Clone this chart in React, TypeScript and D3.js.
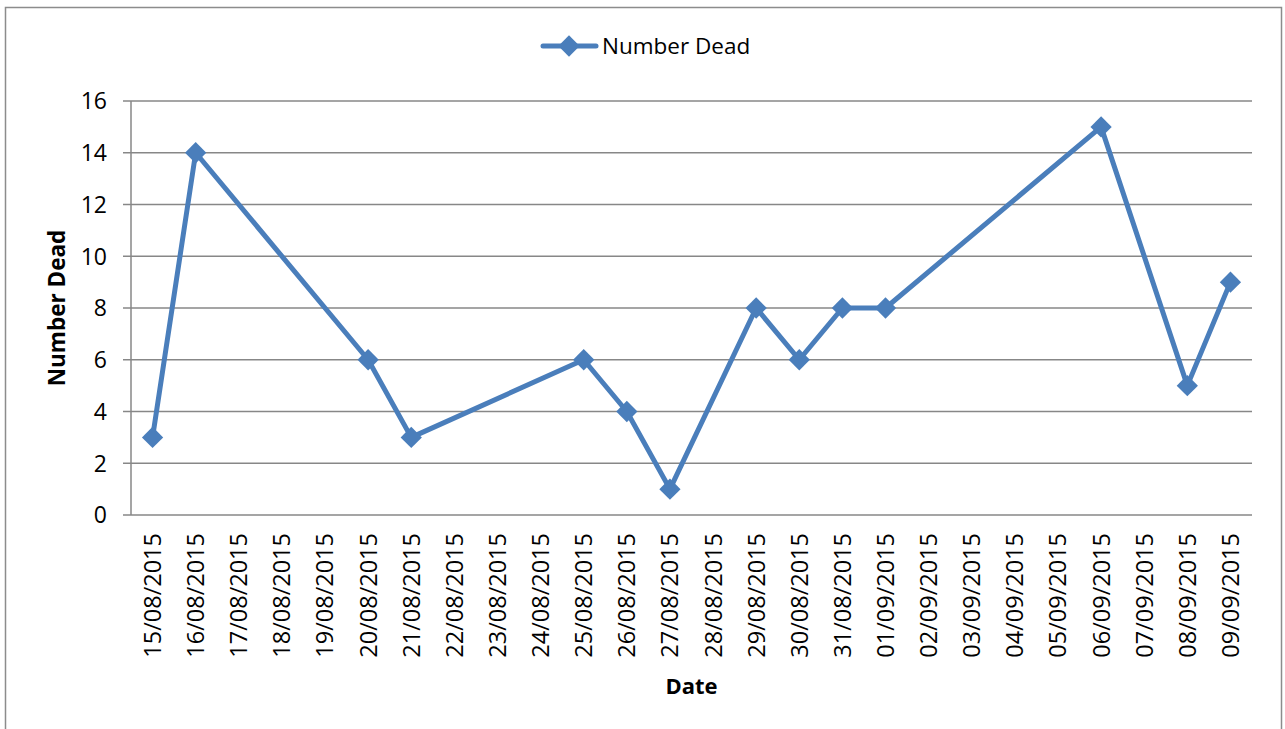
import { useEffect, useRef } from "react";
import * as d3 from "d3";

// all categories on the x axis (every day, even without a record)
const dates = [
  "15/08/2015", "16/08/2015", "17/08/2015", "18/08/2015", "19/08/2015", "20/08/2015",
  "21/08/2015", "22/08/2015", "23/08/2015", "24/08/2015", "25/08/2015", "26/08/2015",
  "27/08/2015", "28/08/2015", "29/08/2015", "30/08/2015", "31/08/2015", "01/09/2015",
  "02/09/2015", "03/09/2015", "04/09/2015", "05/09/2015", "06/09/2015", "07/09/2015",
  "08/09/2015", "09/09/2015",
];

// days that have a value, and the value on that day
const recordDates = [
  "15/08/2015", "16/08/2015", "20/08/2015", "21/08/2015", "25/08/2015", "26/08/2015",
  "27/08/2015", "29/08/2015", "30/08/2015", "31/08/2015", "01/09/2015", "06/09/2015",
  "08/09/2015", "09/09/2015",
];
const numberDead = [3, 14, 6, 3, 6, 4, 1, 8, 6, 8, 8, 15, 5, 9];

const yTicks = [0, 2, 4, 6, 8, 10, 12, 14, 16];

const seriesName = "Number Dead";

function App() {
  const ref = useRef<SVGSVGElement>(null);

  const width = 1285,
    height = 729;
  const plot = { left: 131, right: 1252, top: 101, bottom: 515 };
  const blue = "#4A7EBB";
  const grid = "#878787";
  const font = "'Open Sans', sans-serif";

  useEffect(() => {
    const svg = d3.select(ref.current);
    svg.selectAll("*").remove();

    // outer chart frame
    svg.append("rect")
      .attr("x", 5.5).attr("y", 7.5)
      .attr("width", 1276).attr("height", 740)
      .attr("fill", "white")
      .attr("stroke", "#8c8c8c")
      .attr("stroke-width", 1.5);

    const x = d3.scaleBand<string>()
      .domain(dates)
      .range([plot.left, plot.right]);

    const y = d3.scaleLinear()
      .domain([0, 16])
      .range([plot.bottom, plot.top]);

    const cx = (d: string) => (x(d) as number) + x.bandwidth() / 2;

    // horizontal grid lines + small ticks on the left
    svg.append("g")
      .selectAll("line")
      .data(yTicks)
      .enter()
      .append("line")
      .attr("x1", plot.left - 8)
      .attr("x2", plot.right)
      .attr("y1", d => y(d))
      .attr("y2", d => y(d))
      .attr("stroke", grid)
      .attr("stroke-width", 1.5);

    // vertical axis line
    svg.append("line")
      .attr("x1", plot.left).attr("x2", plot.left)
      .attr("y1", plot.top).attr("y2", plot.bottom)
      .attr("stroke", grid)
      .attr("stroke-width", 1.5);

    // y tick labels
    svg.append("g")
      .selectAll("text")
      .data(yTicks)
      .enter()
      .append("text")
      .attr("x", 107)
      .attr("y", d => y(d))
      .attr("dy", "0.36em")
      .attr("text-anchor", "end")
      .attr("font-family", font)
      .attr("font-size", 23)
      .attr("fill", "black")
      .text(d => d);

    // x tick labels, rotated
    svg.append("g")
      .selectAll("text")
      .data(dates)
      .enter()
      .append("text")
      .attr("transform", d => "translate(" + cx(d) + "," + 533 + ") rotate(-90)")
      .attr("dy", "0.36em")
      .attr("text-anchor", "end")
      .attr("font-family", font)
      .attr("font-size", 23.5)
      .attr("fill", "black")
      .text(d => d);

    // axis titles
    svg.append("text")
      .attr("transform", "translate(57," + (plot.top + plot.bottom) / 2 + ") rotate(-90)")
      .attr("dy", "0.36em")
      .attr("text-anchor", "middle")
      .attr("font-family", font)
      .attr("font-weight", "bold")
      .attr("font-size", 22.5)
      .text("Number Dead");

    svg.append("text")
      .attr("x", (plot.left + plot.right) / 2)
      .attr("y", 686)
      .attr("dy", "0.36em")
      .attr("text-anchor", "middle")
      .attr("font-family", font)
      .attr("font-weight", "bold")
      .attr("font-size", 22)
      .text("Date");

    // the series line
    const points: [number, number][] = recordDates.map((d, i) => [cx(d), y(numberDead[i])]);
    svg.append("path")
      .attr("d", d3.line()(points))
      .attr("fill", "none")
      .attr("stroke", blue)
      .attr("stroke-width", 5)
      .attr("stroke-linejoin", "round");

    const diamond = d3.symbol().type(d3.symbolDiamond2).size(2 * 12 * 12)();

    svg.append("g")
      .selectAll("path")
      .data(points)
      .enter()
      .append("path")
      .attr("d", diamond)
      .attr("transform", d => "translate(" + d[0] + "," + d[1] + ")")
      .attr("fill", blue);

    // legend
    const lg = svg.append("g").attr("transform", "translate(541,46)");
    lg.append("line")
      .attr("x1", 2).attr("x2", 55)
      .attr("y1", 0).attr("y2", 0)
      .attr("stroke", blue)
      .attr("stroke-width", 5)
      .attr("stroke-linecap", "round");
    lg.append("path")
      .attr("d", diamond)
      .attr("transform", "translate(28,0)")
      .attr("fill", blue);
    lg.append("text")
      .attr("x", 61)
      .attr("y", 0)
      .attr("dy", "0.36em")
      .attr("font-family", font)
      .attr("font-size", 22.5)
      .attr("fill", "black")
      .text(seriesName);
  });

  return (
    <svg
      ref={ref}
      width={width}
      height={height}
      style={{ position: "absolute", left: 0, top: 0 }}
    />
  );
}

export default App;
